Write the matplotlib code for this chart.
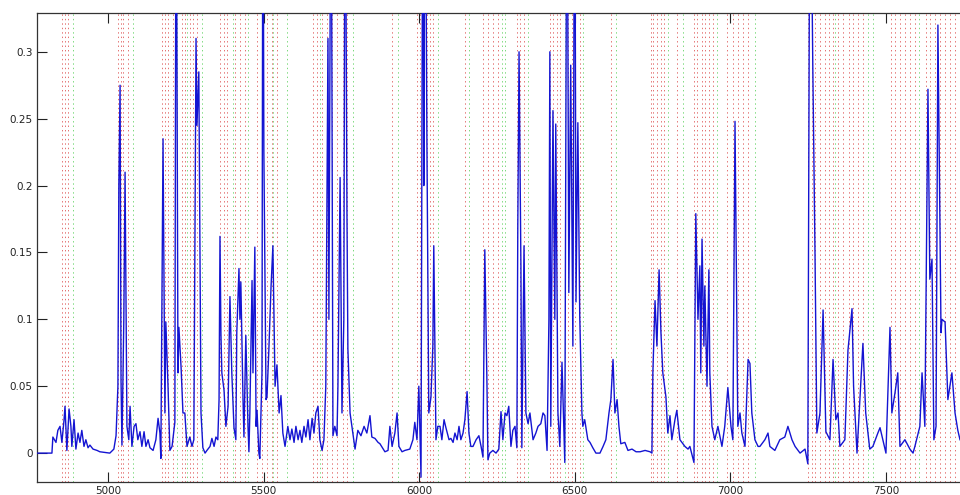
import matplotlib
matplotlib.use("Agg")
import matplotlib.pyplot as plt

# ---- spectrum (wavenumber, intensity) ----
wn = [4772, 4820, 4823, 4833, 4839, 4846, 4852, 4859, 4862, 4868, 4875, 4881, 4884, 4891,
      4897, 4904, 4910, 4916, 4923, 4929, 4936, 4942, 4952, 4965, 4974, 5006, 5019, 5026,
      5032, 5035, 5039, 5042, 5045, 5051, 5055, 5061, 5067, 5071, 5077, 5084, 5090, 5096,
      5103, 5109, 5116, 5122, 5129, 5135, 5145, 5154, 5161, 5167, 5170, 5177, 5183, 5186,
      5193, 5199, 5206, 5215, 5219, 5225, 5228, 5235, 5241, 5247, 5254, 5263, 5270, 5276,
      5283, 5286, 5292, 5296, 5299, 5305, 5312, 5318, 5328, 5334, 5341, 5347, 5353, 5357,
      5360, 5363, 5366, 5373, 5379, 5386, 5392, 5398, 5405, 5411, 5414, 5421, 5424, 5427,
      5434, 5437, 5443, 5450, 5453, 5456, 5463, 5466, 5472, 5476, 5479, 5485, 5488, 5495,
      5498, 5501, 5508, 5511, 5517, 5524, 5530, 5537, 5543, 5550, 5556, 5562, 5569, 5578,
      5585, 5591, 5598, 5604, 5611, 5617, 5623, 5630, 5636, 5643, 5649, 5656, 5662, 5668,
      5675, 5681, 5688, 5694, 5700, 5707, 5710, 5717, 5723, 5729, 5736, 5739, 5746, 5752,
      5758, 5762, 5768, 5771, 5778, 5784, 5794, 5803, 5813, 5823, 5832, 5842, 5848, 5858,
      5868, 5874, 5890, 5900, 5906, 5913, 5922, 5929, 5935, 5945, 5954, 5970, 5980, 5986,
      5993, 5999, 6006, 6012, 6015, 6019, 6025, 6031, 6038, 6044, 6047, 6054, 6060, 6067,
      6073, 6080, 6086, 6096, 6102, 6109, 6115, 6122, 6128, 6134, 6141, 6147, 6154, 6160,
      6166, 6173, 6183, 6192, 6199, 6205, 6211, 6218, 6221, 6227, 6237, 6247, 6256, 6263,
      6269, 6276, 6282, 6288, 6295, 6301, 6308, 6314, 6317, 6321, 6327, 6330, 6337, 6343,
      6350, 6356, 6366, 6375, 6382, 6391, 6398, 6404, 6411, 6417, 6420, 6423, 6430, 6436,
      6439, 6446, 6452, 6459, 6468, 6475, 6481, 6487, 6494, 6500, 6504, 6510, 6516, 6523,
      6526, 6532, 6542, 6549, 6558, 6568, 6581, 6591, 6600, 6610, 6616, 6623, 6629, 6636,
      6642, 6648, 6661, 6671, 6684, 6697, 6710, 6726, 6742, 6748, 6751, 6758, 6764, 6771,
      6777, 6783, 6793, 6799, 6806, 6812, 6822, 6828, 6838, 6854, 6864, 6870, 6883, 6889,
      6896, 6902, 6905, 6909, 6915, 6918, 6925, 6931, 6934, 6941, 6950, 6960, 6973, 6982,
      6992, 7002, 7008, 7015, 7024, 7031, 7037, 7047, 7057, 7063, 7069, 7079, 7089, 7095,
      7111, 7121, 7127, 7143, 7159, 7175, 7185, 7198, 7208, 7224, 7240, 7249, 7256, 7265,
      7272, 7278, 7288, 7298, 7307, 7320, 7330, 7339, 7346, 7352, 7368, 7378, 7391, 7396,
      7407, 7426, 7435, 7448, 7458, 7474, 7481, 7490, 7500, 7513, 7519, 7529, 7538, 7545,
      7561, 7577, 7587, 7593, 7609, 7616, 7625, 7635, 7641, 7648, 7654, 7661, 7667, 7677,
      7680, 7690, 7699, 7712, 7722, 7731, 7738]
intensity = [0.0, 0.0, 0.012, 0.008, 0.017, 0.02, 0.008, 0.025, 0.035, 0.002, 0.033, 0.02, 0.005, 0.025,
             0.003, 0.015, 0.008, 0.017, 0.005, 0.01, 0.004, 0.006, 0.003, 0.002, 0.001, 0.0, 0.003, 0.013,
             0.05, 0.2, 0.275, 0.054, 0.006, 0.1, 0.21, 0.02, 0.01, 0.035, 0.005, 0.02, 0.022, 0.01,
             0.016, 0.005, 0.016, 0.005, 0.01, 0.004, 0.002, 0.01, 0.026, 0.015, -0.004, 0.235, 0.03, 0.098,
             0.05, 0.002, 0.005, 0.023, 0.5, 0.06, 0.094, 0.064, 0.03, 0.03, 0.005, 0.012, 0.005, 0.01,
             0.31, 0.245, 0.285, 0.145, 0.03, 0.004, 0.0, 0.002, 0.005, 0.011, 0.005, 0.012, 0.01, 0.04,
             0.162, 0.09, 0.06, 0.047, 0.02, 0.035, 0.117, 0.06, 0.019, 0.01, 0.09, 0.138, 0.1, 0.128,
             0.04, 0.012, 0.088, 0.02, 0.001, 0.03, 0.129, 0.06, 0.154, 0.02, 0.032, 0.0, -0.004, 0.06,
             0.5, 0.226, 0.04, 0.042, 0.077, 0.124, 0.155, 0.05, 0.066, 0.03, 0.043, 0.015, 0.005, 0.02,
             0.01, 0.018, 0.008, 0.02, 0.01, 0.017, 0.008, 0.02, 0.012, 0.025, 0.01, 0.026, 0.015, 0.03,
             0.035, 0.01, 0.002, 0.01, 0.05, 0.31, 0.1, 0.5, 0.013, 0.02, 0.013, 0.05, 0.206, 0.03,
             0.1, 0.5, 0.18, 0.078, 0.03, 0.02, 0.003, 0.017, 0.013, 0.02, 0.015, 0.028, 0.012, 0.011,
             0.008, 0.007, 0.001, 0.002, 0.02, 0.005, 0.015, 0.03, 0.005, 0.001, 0.002, 0.003, 0.01, 0.023,
             0.01, 0.05, -0.018, 0.5, 0.2, 0.5, 0.231, 0.03, 0.042, 0.08, 0.155, 0.01, 0.02, 0.02,
             0.01, 0.025, 0.019, 0.01, 0.011, 0.008, 0.015, 0.01, 0.02, 0.01, 0.015, 0.025, 0.046, 0.015,
             0.005, 0.005, 0.01, 0.013, 0.005, -0.003, 0.152, 0.05, -0.005, 0.0, 0.002, 0.0, 0.003, 0.031,
             0.01, 0.03, 0.028, 0.035, 0.005, 0.017, 0.02, 0.004, 0.17, 0.30, 0.14, 0.004, 0.155, 0.03,
             0.022, 0.03, 0.01, 0.015, 0.02, 0.022, 0.03, 0.028, 0.002, 0.1, 0.30, 0.02, 0.256, 0.1,
             0.246, 0.03, 0.005, 0.068, -0.007, 0.5, 0.12, 0.29, 0.08, 0.5, 0.113, 0.247, 0.103, 0.03,
             0.02, 0.025, 0.01, 0.008, 0.004, 0.0, 0.0, 0.005, 0.01, 0.03, 0.04, 0.07, 0.03, 0.04,
             0.02, 0.007, 0.008, 0.002, 0.003, 0.001, 0.001, 0.002, 0.001, 0.0, 0.06, 0.114, 0.08, 0.137,
             0.09, 0.06, 0.042, 0.015, 0.028, 0.01, 0.025, 0.032, 0.01, 0.005, 0.003, 0.005, -0.007, 0.179,
             0.1, 0.14, 0.06, 0.16, 0.08, 0.125, 0.05, 0.137, 0.06, 0.02, 0.01, 0.02, 0.005, 0.02,
             0.049, 0.02, 0.01, 0.248, 0.02, 0.03, 0.015, 0.005, 0.07, 0.067, 0.03, 0.01, 0.005, 0.005,
             0.01, 0.015, 0.005, 0.002, 0.01, 0.012, 0.02, 0.01, 0.005, 0.0, 0.003, -0.008, 0.5, 0.288,
             0.15, 0.015, 0.03, 0.107, 0.016, 0.01, 0.07, 0.025, 0.03, 0.005, 0.01, 0.077, 0.108, 0.05,
             0.0, 0.082, 0.03, 0.003, 0.005, 0.015, 0.019, 0.01, 0.0, 0.094, 0.03, 0.045, 0.06, 0.005,
             0.01, 0.003, 0.0, 0.005, 0.02, 0.06, 0.02, 0.272, 0.13, 0.145, 0.01, 0.02, 0.32, 0.09,
             0.1, 0.098, 0.04, 0.06, 0.03, 0.017, 0.01]

# ---- vertical marker positions (dotted) ----
red_marks = [4852, 4862, 4872,
             5032, 5042, 5048, 5064,
             5174, 5183, 5193, 5209, 5238, 5247, 5263, 5273, 5286,
             5360, 5373, 5382, 5408, 5424, 5440, 5479, 5495, 5511, 5527, 5543,
             5659, 5672, 5688, 5704, 5720, 5736, 5755, 5768,
             5913,
             5993, 6003, 6025, 6035, 6044,
             6147,
             6205, 6221, 6237, 6253,
             6314, 6324, 6337,
             6420, 6430, 6443, 6452, 6478, 6491, 6500, 6516,
             6616,
             6745, 6751, 6764, 6777, 6787,
             6828,
             6883, 6893, 6909, 6918, 6931, 6944,
             6989, 7008, 7024, 7040, 7057,
             7249, 7262, 7272, 7288, 7304,
             7317, 7330, 7346, 7362,
             7381, 7394, 7410, 7426,
             7516, 7529, 7545, 7561, 7577, 7593,
             7628, 7641, 7657, 7673, 7690, 7706, 7722]
green_marks = [4888, 5080, 5222, 5254, 5302, 5401, 5450, 5530, 5575, 5681, 5787,
               5932, 6060, 6160, 6266, 6276, 6350, 6468, 6526, 6632, 6799, 6848,
               6957, 7079, 7336, 7442, 7458, 7606]

x_ticks = [5000, 5500, 6000, 6500, 7000, 7500]
y_ticks = [0, 0.05, 0.1, 0.15, 0.2, 0.25, 0.3]
y_tick_labels = ["0", "0.05", "0.1", "0.15", "0.2", "0.25", "0.3"]

plt.rcParams['lines.scale_dashes'] = False
fig = plt.figure(figsize=(9.6, 4.95), dpi=100)
ax = fig.add_axes([37 / 960, 13 / 495, 1.0, 469 / 495])

for xv in red_marks:
    ax.axvline(xv, color=(0.85, 0.25, 0.25), lw=0.7, linestyle=(0, (1, 2.2)), alpha=0.75, zorder=1)
for xv in green_marks:
    ax.axvline(xv, color=(0.3, 0.8, 0.3), lw=0.7, linestyle=(0, (1, 2.2)), alpha=0.75, zorder=1)

ax.plot(wn, intensity, color='#1414d2', lw=1.0, zorder=3)

ax.set_xlim(4772, 4772 + 960 * 3.2134)
ax.set_ylim(-0.0216, 0.329)
ax.set_xticks(x_ticks)
ax.set_xticklabels([str(v) for v in x_ticks])
ax.set_yticks(y_ticks)
ax.set_yticklabels(y_tick_labels)
ax.tick_params(direction='in', length=7, width=0.8, labelsize=7.5, colors='#222222',
               top=True, right=False, pad=3)
for s in ['left', 'bottom', 'top']:
    ax.spines[s].set_color('#333333')
    ax.spines[s].set_linewidth(0.9)
ax.spines['right'].set_visible(False)

fig.savefig('out.png', dpi=100)
